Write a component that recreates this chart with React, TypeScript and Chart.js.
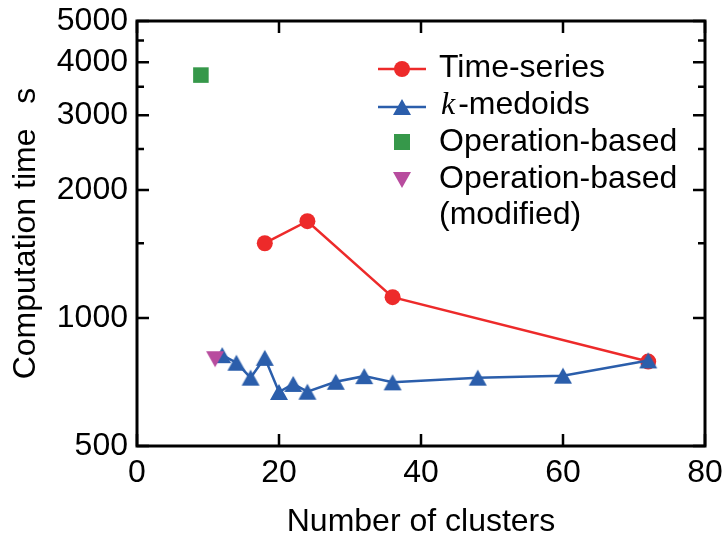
import React, { useEffect, useRef } from "react";
import { Chart, registerables } from "chart.js";

Chart.register(...registerables);

// ---- data ----
const timeSeriesX = [18, 24, 36, 72];
const timeSeriesY = [1500, 1690, 1120, 790];
const kMedoidsX = [12, 14, 16, 18, 20, 22, 24, 28, 32, 36, 48, 60, 72];
const kMedoidsY = [818, 785, 724, 806, 670, 700, 671, 708, 730, 706, 724, 732, 795];
const operationX = [9];
const operationY = [3730];
const operationModX = [11];
const operationModY = [800];

const xTickValues = [0, 20, 40, 60, 80];
const yTickValues = [500, 1000, 1500, 2000, 2500, 3000, 3500, 4000, 4500, 5000];
const yTickLabelled = [500, 1000, 2000, 3000, 4000, 5000];

const legendLabels = ["Time-series", "-medoids", "Operation-based", "Operation-based", "(modified)"];

const RED = "rgb(237,42,42)";
const BLUE = "rgb(43,94,171)";
const GREEN = "rgb(54,152,74)";
const PURPLE = "rgb(184,76,158)";
const FONT = "'Liberation Sans', Arial, sans-serif";

function makeTriangle(color: string, up: boolean): HTMLCanvasElement {
  const c = document.createElement("canvas");
  c.width = 20;
  c.height = 18;
  const g = c.getContext("2d")!;
  g.fillStyle = color;
  g.beginPath();
  if (up) {
    g.moveTo(10, 1);
    g.lineTo(19, 17);
    g.lineTo(1, 17);
  } else {
    g.moveTo(1, 1);
    g.lineTo(19, 1);
    g.lineTo(10, 17);
  }
  g.closePath();
  g.fill();
  return c;
}

const pts = (xs: number[], ys: number[]) => xs.map((x, i) => ({ x, y: ys[i] }));

export default function App() {
  const ref = useRef<HTMLCanvasElement | null>(null);

  useEffect(() => {
    if (!ref.current) return;
    const triUp = makeTriangle(BLUE, true);
    const triDown = makeTriangle(PURPLE, false);

    const framePlugin = {
      id: "frame",
      afterDatasetsDraw(chart: any) {
        const { ctx, chartArea: a, scales } = chart;
        ctx.save();
        ctx.strokeStyle = "#000";
        ctx.lineWidth = 2.5;
        ctx.lineCap = "butt";
        yTickValues.forEach((v) => {
          const py = scales.y.getPixelForValue(v);
          const len = yTickLabelled.includes(v) ? 12 : 7;
          ctx.beginPath();
          ctx.moveTo(a.left, py);
          ctx.lineTo(a.left + len, py);
          ctx.moveTo(a.right, py);
          ctx.lineTo(a.right - len, py);
          ctx.stroke();
        });
        xTickValues.forEach((v) => {
          const px = scales.x.getPixelForValue(v);
          ctx.beginPath();
          ctx.moveTo(px, a.bottom);
          ctx.lineTo(px, a.bottom - 12);
          ctx.moveTo(px, a.top);
          ctx.lineTo(px, a.top + 12);
          ctx.stroke();
        });
        ctx.lineWidth = 3;
        ctx.strokeRect(a.left, a.top, a.right - a.left, a.bottom - a.top);
        ctx.restore();
      },
    };

    const legendPlugin = {
      id: "customLegend",
      afterDraw(chart: any) {
        const { ctx, chartArea: a } = chart;
        const mx = a.right - 303;
        const tx = a.right - 266;
        const rows = [a.top + 48, a.top + 86, a.top + 121, a.top + 159];
        const base = [a.top + 56, a.top + 93, a.top + 130, a.top + 167, a.top + 203];
        ctx.save();
        ctx.lineWidth = 2.5;
        // Time-series
        ctx.strokeStyle = RED;
        ctx.beginPath();
        ctx.moveTo(mx - 24, rows[0]);
        ctx.lineTo(mx + 24, rows[0]);
        ctx.stroke();
        ctx.fillStyle = RED;
        ctx.beginPath();
        ctx.arc(mx, rows[0], 8, 0, Math.PI * 2);
        ctx.fill();
        // k-medoids
        ctx.strokeStyle = BLUE;
        ctx.beginPath();
        ctx.moveTo(mx - 24, rows[1]);
        ctx.lineTo(mx + 24, rows[1]);
        ctx.stroke();
        ctx.drawImage(triUp, mx - 10, rows[1] - 9);
        // Operation-based
        ctx.fillStyle = GREEN;
        ctx.fillRect(mx - 8, rows[2] - 8, 16, 16);
        // modified
        ctx.drawImage(triDown, mx - 10, rows[3] - 9);

        ctx.fillStyle = "#000";
        ctx.textBaseline = "alphabetic";
        ctx.textAlign = "left";
        ctx.font = `32px ${FONT}`;
        ctx.fillText(legendLabels[0], tx, base[0]);
        ctx.font = `italic 32px 'Liberation Serif', 'DejaVu Serif', serif`;
        ctx.fillText("k", tx + 2, base[1]);
        const kw = ctx.measureText("k").width;
        ctx.font = `32px ${FONT}`;
        ctx.fillText(legendLabels[1], tx + 2 + kw + 3, base[1]);
        ctx.fillText(legendLabels[2], tx, base[2]);
        ctx.fillText(legendLabels[3], tx, base[3]);
        ctx.fillText(legendLabels[4], tx, base[4]);
        ctx.restore();
      },
    };

    const chart = new Chart(ref.current, {
      type: "scatter",
      data: {
        datasets: [
          {
            label: "Time-series",
            data: pts(timeSeriesX, timeSeriesY),
            showLine: true,
            borderColor: RED,
            backgroundColor: RED,
            borderWidth: 2.5,
            pointStyle: "circle",
            pointRadius: 8,
            pointBorderWidth: 0,
            order: 4,
          },
          {
            label: "k-medoids",
            data: pts(kMedoidsX, kMedoidsY),
            showLine: true,
            borderColor: BLUE,
            backgroundColor: BLUE,
            borderWidth: 2.5,
            pointStyle: triUp as any,
            pointRadius: 10,
            pointBorderWidth: 0,
            order: 3,
          },
          {
            label: "Operation-based",
            data: pts(operationX, operationY),
            showLine: false,
            borderColor: GREEN,
            backgroundColor: GREEN,
            pointStyle: "rect",
            pointRadius: 11,
            pointBorderWidth: 0,
            order: 2,
          },
          {
            label: "Operation-based (modified)",
            data: pts(operationModX, operationModY),
            showLine: false,
            borderColor: PURPLE,
            backgroundColor: PURPLE,
            pointStyle: triDown as any,
            pointRadius: 10,
            pointBorderWidth: 0,
            order: 1,
          },
        ],
      },
      options: {
        animation: false,
        responsive: true,
        maintainAspectRatio: false,
        layout: { padding: { left: 0, right: 23, top: 21, bottom: 0 } },
        plugins: { legend: { display: false }, tooltip: { enabled: false } },
        scales: {
          x: {
            type: "linear",
            min: 0,
            max: 80,
            afterBuildTicks: (s: any) => {
              s.ticks = xTickValues.map((v) => ({ value: v }));
            },
            afterFit: (s: any) => {
              s.height = 99;
              s.paddingLeft = 0;
              s.paddingRight = 0;
            },
            grid: { display: false, drawTicks: false },
            border: { display: false },
            ticks: {
              color: "#000",
              padding: 8,
              maxRotation: 0,
              font: { family: FONT, size: 32 },
            },
            title: {
              display: true,
              text: "Number of clusters",
              color: "#000",
              font: { family: FONT, size: 32, lineHeight: 1 },
              padding: { top: 0, bottom: 7 },
            },
          },
          y: {
            type: "logarithmic",
            min: 500,
            max: 5000,
            afterBuildTicks: (s: any) => {
              s.ticks = yTickValues.map((v) => ({ value: v }));
            },
            afterFit: (s: any) => {
              s.width = 137;
              s.paddingTop = 0;
              s.paddingBottom = 0;
            },
            grid: { display: false, drawTicks: false },
            border: { display: false },
            ticks: {
              color: "#000",
              padding: 9,
              autoSkip: false,
              font: { family: FONT, size: 32 },
              callback: (v: any) => (yTickLabelled.includes(Number(v)) ? String(v) : ""),
            },
            title: {
              display: true,
              text: "Computation time\u2002 s",
              color: "#000",
              font: { family: FONT, size: 32, lineHeight: 1 },
              padding: { top: 10, bottom: 0 },
            },
          },
        },
      },
      plugins: [framePlugin, legendPlugin],
    });
    return () => chart.destroy();
  }, []);

  return (
    <div style={{ position: "absolute", left: 0, top: 0, width: 728, height: 545, background: "#fff" }}>
      <canvas ref={ref} />
    </div>
  );
}
